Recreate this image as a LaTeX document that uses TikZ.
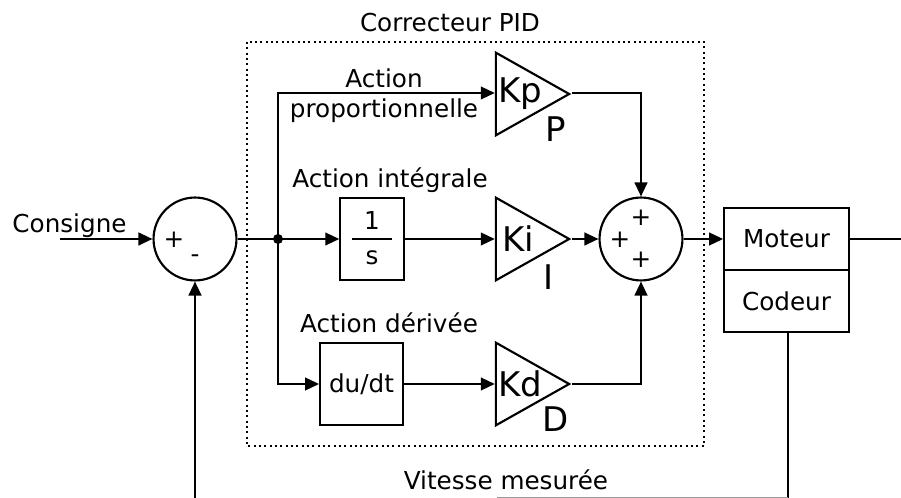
\documentclass[tikz,border=0pt]{standalone}
\usepackage{fontspec}
\setmainfont{DejaVu Sans}
\usetikzlibrary{arrows.meta,shapes.geometric}
\tikzset{
  x=0.75pt,y=-0.75pt,
  wire/.style={line width=1.6pt,draw=black},
  arr/.style={wire,-{Triangle[length=10.5pt,width=9.5pt]}},
  sumnode/.style={circle,draw=black,line width=1.6pt,minimum size=62.2pt,inner sep=0pt},
  gain/.style={isosceles triangle,isosceles triangle stretches,shape border rotate=0,draw=black,line width=1.6pt,minimum width=62pt,minimum height=55pt,inner sep=0pt},
  blockbox/.style={rectangle,draw=black,line width=1.6pt,inner sep=0pt,font=\fontsize{18.5}{22}\selectfont},
  lab/.style={inner sep=0pt,font=\fontsize{18.5}{22}\selectfont},
  big/.style={inner sep=0pt,font=\fontsize{25.5}{30}\selectfont},
  sign/.style={inner sep=0pt,font=\fontsize{18.5}{22}\selectfont},
}
\begin{document}
\begin{tikzpicture}
\useasboundingbox (0,0) rectangle (901,498);
\draw[line width=1.6pt,dash pattern=on 1.6pt off 2.4pt] (247,42) rectangle (704,446);
\node[sumnode] (s1) at (195,239) {};
\node[sumnode] (s2) at (641,239) {};
\node[gain] (kp) at (520,94) {};
\node[gain] (ki) at (520,239) {};
\node[gain] (kd) at (520,384) {};
\node[big] (tkp) at (520,94) {Kp};
\node[big] (tki) at (518,239) {Ki};
\node[big] (tkd) at (520,384) {Kd};
\node[big] (lp) at (556,129) {P};
\node[big] (li) at (549,277) {I};
\node[big] (ld) at (556,419) {D};
\node[blockbox,minimum width=47.5pt,minimum height=62pt] (int) at (372,239) {};
\node[lab] (un) at (372,221) {1};
\node[lab] (sv) at (372,258) {s};
\coordinate (fa) at (351.5,239);
\coordinate (fb) at (392,239);
\draw[wire] (fa) -- (fb);
\node[blockbox,minimum width=62pt,minimum height=62pt] (dd) at (361.5,384) {du/dt};
\node[blockbox,minimum width=93.5pt,minimum height=46.5pt] (mot) at (786.5,239) {Moteur};
\node[blockbox,minimum width=93.5pt,minimum height=46.5pt] (cod) at (786.5,301) {Codeur};
\node[lab] (tpid) at (450,23) {Correcteur PID};
\node[lab] (tcons) at (69.5,226) {Consigne};
\node[lab] (tap1) at (384,78) {Action};
\node[lab] (tap2) at (384,111) {proportionnelle};
\node[lab] (tai) at (390,180) {Action intégrale};
\node[lab] (tad) at (389,323) {Action dérivée};
\node[lab] (tv) at (506,480) {Vitesse mesurée};
\node[sign] at (174,240) {+};
\node[sign] at (195,259) {-};
\node[sign] at (620,240) {+};
\node[sign] at (641,218) {+};
\node[sign] at (641,260) {+};
\coordinate (in) at (60,239);
\coordinate (out) at (901,239);
\coordinate (fb1) at (788,499);
\coordinate (fb2) at (195,499);
\coordinate (cb) at (788,332);
\coordinate (j) at (278,239);
\coordinate (jt) at (278,93);
\coordinate (jb) at (278,384);
\coordinate (ct) at (641,93);
\coordinate (cd) at (641,384);
\coordinate (fbm) at (497,498);
\coordinate (fbe) at (788,498);
\fill (j) circle (3.75pt);
\draw[arr] (in) -- (s1.west);
\draw[wire] (s1.east) -- (j);
\draw[arr] (j) -- (int.west);
\draw[arr] (int.east) -- (ki.west);
\draw[arr] (ki.east) -- (s2.west);
\draw[arr] (s2.east) -- (mot.west);
\draw[wire] (mot.east) -- (out);
\draw[arr] (j) -- (jt) -- (kp.west |- jt);
\draw[arr] (j) -- (jb) -- (dd.west);
\draw[arr] (dd.east) -- (kd.west);
\draw[arr] (kp.east |- ct) -- (ct) -- (s2.north);
\draw[arr] (kd.east) -- (cd) -- (s2.south);
\draw[wire] (cb) -- (fb1);
\draw[arr] (fb2) -- (s1.south);
\draw[line width=0.75pt,draw=black!40] (fbm) -- (fbe);
\end{tikzpicture}
\end{document}
